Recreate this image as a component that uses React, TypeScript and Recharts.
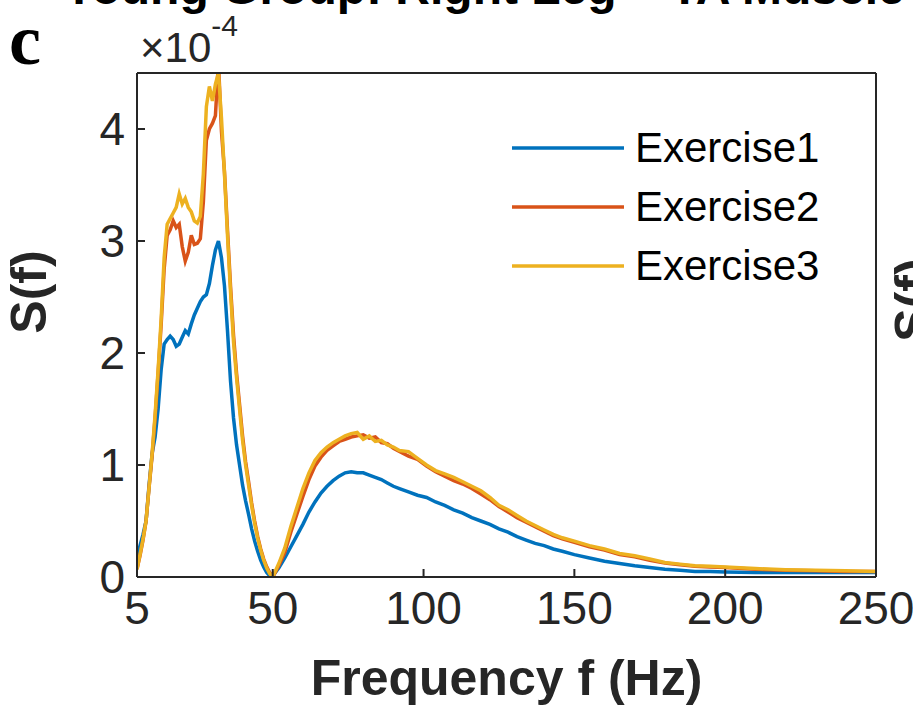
import { LineChart, Line, XAxis, YAxis, Legend } from "recharts"

// frequency (Hz)
const freq = [
  5, 6, 7, 8, 9, 10, 11, 12, 13, 14, 15, 16, 17, 18, 19, 20, 21, 22, 23, 24, 25, 26, 27, 28, 29, 30,
  31, 32, 33, 34, 35, 36, 37, 38, 39, 40, 41, 42, 43, 44, 45, 46, 47, 48, 49, 50,
  52, 54, 56, 58, 60, 62, 64, 66, 68, 70, 72, 74, 76, 78, 80, 82, 84, 86, 88, 90, 92,
  95, 98, 101, 104, 107, 110, 113, 116, 119, 122, 125, 128, 131, 134, 137, 140, 143, 146,
  150, 155, 160, 165, 170, 175, 180, 185, 190, 195, 200,
  210, 220, 230, 240, 250,
]

// S(f), in units of 1e-4
const exercise1 = [
  0.18, 0.28, 0.38, 0.5, 0.82, 1.1, 1.25, 1.5, 1.85, 2.08, 2.12, 2.15, 2.12, 2.06, 2.08, 2.14, 2.2, 2.17, 2.26, 2.34, 2.4, 2.46, 2.5, 2.52, 2.62, 2.78,
  2.92, 3.0, 2.85, 2.6, 2.2, 1.75, 1.42, 1.18, 1.0, 0.82, 0.68, 0.56, 0.43, 0.32, 0.23, 0.15, 0.09, 0.04, 0.01, 0.01,
  0.08, 0.17, 0.27, 0.37, 0.47, 0.58, 0.67, 0.75, 0.81, 0.86, 0.9, 0.93, 0.94, 0.93, 0.93, 0.91, 0.89, 0.87, 0.84, 0.81, 0.79,
  0.76, 0.73, 0.71, 0.67, 0.64, 0.6, 0.57, 0.53, 0.5, 0.47, 0.43, 0.4, 0.36, 0.33, 0.3, 0.28, 0.25, 0.23,
  0.2, 0.17, 0.14, 0.12, 0.1, 0.085, 0.07, 0.06, 0.05, 0.05, 0.045,
  0.04, 0.04, 0.04, 0.04, 0.04,
]

const exercise2 = [
  0.07, 0.19, 0.33, 0.5, 0.8, 1.08, 1.42, 1.82, 2.25, 2.75, 3.05, 3.1, 3.18, 3.12, 3.15, 2.95, 2.82, 2.9, 3.05, 2.97, 2.98, 3.02, 3.35, 3.9, 4.0, 4.05,
  4.12, 4.6, 3.98, 3.62, 3.1, 2.6, 2.16, 1.82, 1.54, 1.26, 1.03, 0.85, 0.66, 0.5, 0.36, 0.25, 0.16, 0.09, 0.04, 0.0,
  0.1, 0.22, 0.4, 0.56, 0.72, 0.87, 0.99, 1.07, 1.13, 1.17, 1.21, 1.23, 1.25, 1.26, 1.27, 1.24, 1.25, 1.2, 1.19, 1.15, 1.12,
  1.08, 1.05, 0.99, 0.94, 0.9, 0.86, 0.83, 0.79, 0.74, 0.69, 0.63, 0.58, 0.53, 0.49, 0.45, 0.41, 0.37, 0.34,
  0.31, 0.27, 0.24, 0.2, 0.18, 0.15, 0.125, 0.11, 0.095, 0.09, 0.085,
  0.07, 0.06, 0.055, 0.05, 0.05,
]

const exercise3 = [
  0.07, 0.2, 0.34, 0.5, 0.8, 1.1, 1.45, 1.85, 2.3, 2.85, 3.15, 3.2, 3.25, 3.3, 3.42, 3.33, 3.38, 3.3, 3.26, 3.18, 3.16, 3.22, 3.6, 4.2, 4.38, 4.25,
  4.4, 4.5, 4.1, 3.6, 3.05, 2.55, 2.1, 1.78, 1.5, 1.22, 1.0, 0.82, 0.64, 0.48, 0.35, 0.24, 0.15, 0.08, 0.03, 0.0,
  0.12, 0.26, 0.45, 0.62, 0.79, 0.93, 1.04, 1.11, 1.16, 1.2, 1.23, 1.26, 1.28, 1.29, 1.23, 1.26, 1.21, 1.22, 1.18, 1.16, 1.13,
  1.12, 1.06, 1.0, 0.95, 0.92, 0.89, 0.85, 0.81, 0.77, 0.71, 0.64, 0.6, 0.55, 0.5, 0.46, 0.42, 0.38, 0.35,
  0.32, 0.28, 0.25, 0.21, 0.19, 0.16, 0.13, 0.115, 0.1, 0.095, 0.09,
  0.075, 0.065, 0.06, 0.055, 0.05,
]

const seriesNames = ["Exercise1", "Exercise2", "Exercise3"]
const seriesColors = ["#0072BD", "#D95319", "#EDB120"]
const xTicks = [5, 50, 100, 150, 200, 250]
const yTicks = [0, 1, 2, 3, 4]

const data = freq.map((f, i) => ({ f, e1: exercise1[i], e2: exercise2[i], e3: exercise3[i] }))

const axisColor = "#262626"
const font = "'Liberation Sans', Arial, Helvetica, sans-serif"

function LegendBox() {
  return (
    <div style={{ display: "flex", flexDirection: "column", fontFamily: font }}>
      {seriesNames.map((name, i) => (
        <div key={name} style={{ display: "flex", alignItems: "center", height: 59 }}>
          <svg width={112} height={8}>
            <line x1={0} y1={4} x2={112} y2={4} stroke={seriesColors[i]} strokeWidth={3.5} />
          </svg>
          <span style={{ marginLeft: 11, fontSize: 42, color: "#000", lineHeight: 1 }}>{name}</span>
        </div>
      ))}
    </div>
  )
}

export default function App() {
  return (
    <div style={{ position: "absolute", left: 0, top: 0, width: 913, height: 723, overflow: "hidden", background: "#fff" }}>
      <LineChart width={913} height={723} data={data} margin={{ top: 72, right: 36, bottom: 6, left: 77 }}>
        <XAxis
          xAxisId="b"
          dataKey="f"
          type="number"
          domain={[5, 250]}
          ticks={xTicks}
          interval={0}
          allowDataOverflow
          height={140}
          stroke={axisColor}
          strokeWidth={2}
          tickSize={-8}
          tickMargin={22}
          tick={{ fontSize: 46, fill: axisColor, fontFamily: font }}
          label={{
            value: "Frequency f (Hz)",
            position: "insideBottom",
            offset: 22,
            style: { fontSize: 50, fontWeight: "bold", fill: axisColor, fontFamily: font },
          }}
        />
        <XAxis
          xAxisId="t"
          orientation="top"
          dataKey="f"
          type="number"
          domain={[5, 250]}
          ticks={xTicks}
          interval={0}
          allowDataOverflow
          height={1}
          stroke={axisColor}
          strokeWidth={2}
          tickSize={-8}
          tick={false}
        />
        <YAxis
          yAxisId="l"
          type="number"
          domain={[0, 4.5]}
          ticks={yTicks}
          interval={0}
          allowDataOverflow
          width={60}
          stroke={axisColor}
          strokeWidth={2}
          tickSize={-8}
          tickMargin={20}
          tick={{ fontSize: 46, fill: axisColor, fontFamily: font }}
        />
        <YAxis
          yAxisId="r"
          orientation="right"
          type="number"
          domain={[0, 4.5]}
          ticks={yTicks}
          interval={0}
          allowDataOverflow
          width={1}
          stroke={axisColor}
          strokeWidth={2}
          tickSize={-8}
          tick={false}
        />
        <Legend
          layout="vertical"
          align="center"
          verticalAlign="middle"
          content={<LegendBox />}
          wrapperStyle={{ left: 512, top: 118, width: 340, height: 180 }}
        />
        {["e1", "e2", "e3"].map((key, i) => (
          <Line
            key={key}
            xAxisId="b"
            yAxisId="l"
            dataKey={key}
            name={seriesNames[i]}
            type="linear"
            stroke={seriesColors[i]}
            strokeWidth={3.5}
            dot={false}
            isAnimationActive={false}
          />
        ))}
      </LineChart>
      <svg width={913} height={723} style={{ position: "absolute", left: 0, top: 0, pointerEvents: "none" }}>
        <text x={63} y={4} fontSize={48} fontWeight="bold" fill="#000" fontFamily={font}>
          Young Group: Right Leg – TA Muscle
        </text>
        <text x={9} y={64} fontSize={72} fontWeight="bold" fill="#000" fontFamily="'Liberation Serif', 'Times New Roman', serif">
          c
        </text>
        <text x={140} y={62} fontSize={42} fill={axisColor} fontFamily={font}>
          ×10
          <tspan fontSize={30} dy={-26}>-4</tspan>
        </text>
        <text
          transform="translate(46, 292) rotate(-90)"
          textAnchor="middle"
          fontSize={50}
          fontWeight="bold"
          fill={axisColor}
          fontFamily={font}
        >
          S(f)
        </text>
        <text
          transform="translate(930, 300) rotate(-90)"
          textAnchor="middle"
          fontSize={50}
          fontWeight="bold"
          fill={axisColor}
          fontFamily={font}
        >
          S(f)
        </text>
      </svg>
    </div>
  )
}
